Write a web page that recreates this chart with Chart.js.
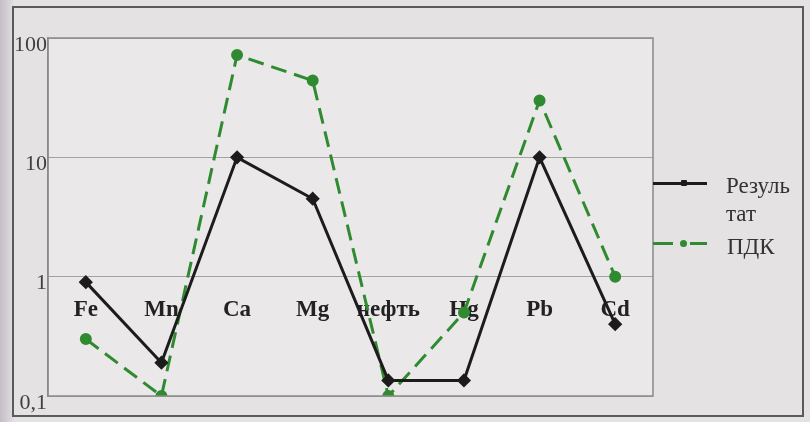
<!DOCTYPE html>
<html>
<head>
<meta charset="utf-8">
<script src="https://cdn.jsdelivr.net/npm/chart.js@4"></script>
<style>
  html, body { margin: 0; padding: 0; background: #e4e2e3; }
  #wrap { position: relative; width: 810px; height: 422px; }
  .leg { position: absolute; font-family: "Liberation Serif", serif; font-size: 23px; color: #333; line-height: 28px; }
  .seg { position: absolute; height: 3px; top: -1px; }
  .dot { position: absolute; width: 7px; height: 7px; border-radius: 50%; top: -3px; left: 27px; }
</style>
</head>
<body>
<div id="wrap">
  <canvas id="chart" width="810" height="422"></canvas>
  <div style="position:absolute; left:653px; top:183px;">
    <div class="seg" style="left:0; width:54px; background:#1c1c1c;"></div>
    <div class="dot" style="background:#1c1c1c; border-radius:1px; width:6px; height:6px; left:28px;"></div>
  </div>
  <div class="leg" style="left:726px; top:172px;">Резуль<br>тат</div>
  <div style="position:absolute; left:653px; top:243px;">
    <div class="seg" style="left:0; width:20px; background:#2f8a30;"></div>
    <div class="dot" style="background:#2f8a30;"></div>
    <div class="seg" style="left:37px; width:17px; background:#2f8a30;"></div>
  </div>
  <div class="leg" style="left:727px; top:233px;">ПДК</div>
</div>
<script>
const categories = ['Fe', 'Mn', 'Ca', 'Mg', 'нефть', 'Hg', 'Pb', 'Cd'];
const rezultat = [0.9, 0.19, 10, 4.5, 0.135, 0.135, 10, 0.4];
const pdk = [0.3, 0.1, 72, 44, 0.1, 0.5, 30, 1];
const yTicks = [0.1, 1, 10, 100];

const framePlugin = {
  id: 'frame',
  beforeDraw(chart) {
    const ctx = chart.ctx;
    ctx.save();
    ctx.fillStyle = '#e4e2e3';
    ctx.fillRect(0, 0, chart.width, chart.height);
    // darker scan edge on the left
    const g = ctx.createLinearGradient(0, 0, 14, 0);
    g.addColorStop(0, '#c4bdc6');
    g.addColorStop(1, '#e2dfe2');
    ctx.fillStyle = g;
    ctx.fillRect(0, 0, 14, chart.height);
    ctx.fillStyle = '#eae8e9';
    const a = chart.chartArea;
    ctx.fillRect(a.left, a.top, a.right - a.left, a.bottom - a.top);
    ctx.restore();
  },
  afterDraw(chart) {
    const ctx = chart.ctx;
    const a = chart.chartArea;
    ctx.save();
    ctx.strokeStyle = '#8a8a8a';
    ctx.lineWidth = 1.5;
    ctx.strokeRect(a.left, a.top, a.right - a.left, a.bottom - a.top);
    ctx.strokeStyle = '#5a5a5a';
    ctx.lineWidth = 2;
    ctx.strokeRect(13, 7, 790, 409);
    ctx.restore();
  }
};

new Chart(document.getElementById('chart'), {
  type: 'line',
  data: {
    labels: categories,
    datasets: [
      {
        label: 'Результат',
        data: rezultat,
        borderColor: '#1c1c1c',
        backgroundColor: '#1c1c1c',
        borderWidth: 3,
        pointStyle: 'rectRot',
        pointRadius: 5,
        tension: 0
      },
      {
        label: 'ПДК',
        data: pdk,
        borderColor: '#2f8a30',
        backgroundColor: '#2f8a30',
        borderWidth: 3,
        borderDash: [16, 8],
        pointStyle: 'circle',
        pointRadius: 4.5,
        tension: 0
      }
    ]
  },
  options: {
    responsive: false,
    animation: false,
    layout: { padding: { left: 0, top: 38, right: 157, bottom: 26 } },
    plugins: { legend: { display: false }, tooltip: { enabled: false } },
    scales: {
      x: {
        position: { y: 1 },
        offset: true,
        afterFit: s => { s.height = 0; },
        grid: { display: false },
        border: { display: false },
        ticks: {
          padding: 12,
          color: '#222',
          font: { family: 'Liberation Serif', size: 23, weight: 'bold' }
        }
      },
      y: {
        type: 'logarithmic',
        min: 0.1,
        max: 100,
        afterFit: s => { s.width = 48; },
        afterBuildTicks: s => { s.ticks = yTicks.map(v => ({ value: v })); },
        grid: { color: '#a2a2a2', lineWidth: 1, drawTicks: false },
        border: { color: '#8a8a8a', width: 1.5 },
        ticks: {
          padding: 1,
          labelOffset: 7,
          color: '#404040',
          font: { family: 'Liberation Serif', size: 22 },
          callback: v => String(v).replace('.', ',')
        }
      }
    }
  },
  plugins: [framePlugin]
});
</script>
</body>
</html>
